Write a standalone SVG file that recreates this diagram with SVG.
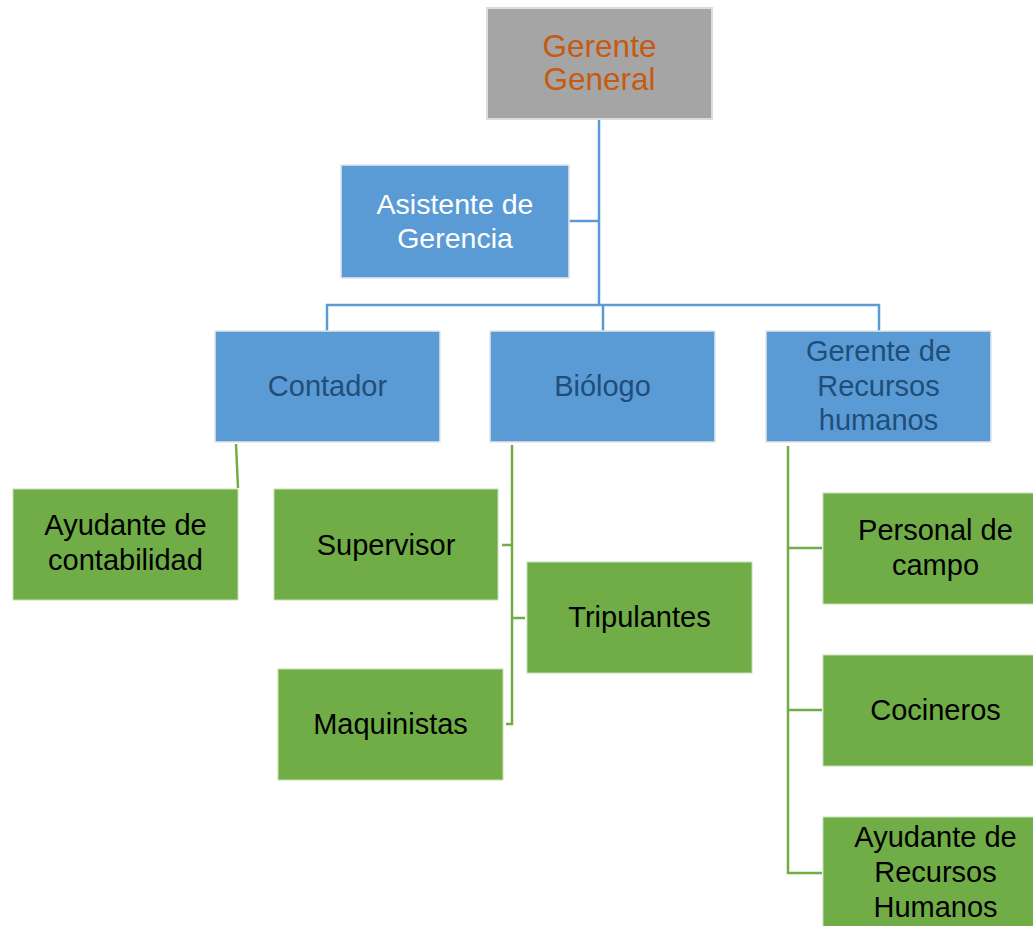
<svg xmlns="http://www.w3.org/2000/svg" width="1033" height="926" viewBox="0 0 1033 926">
<style>
text{font-family:"Liberation Sans",Arial,sans-serif;text-anchor:middle;}
.gray{fill:#a5a5a5;stroke:#dcdcdc;stroke-width:2;}
.blue{fill:#5b9bd5;stroke:#e6e6e6;stroke-width:1.5;}
.green{fill:#70ad47;stroke:#c5dfb3;stroke-width:1;}
.tg{fill:#c55a11;font-size:31.5px;}
.tw{fill:#ffffff;font-size:28.5px;}
.tb{fill:#1f4e79;font-size:29px;}
.tk{fill:#000000;font-size:29px;}
.cb{fill:none;stroke:#5b9bd5;stroke-width:2.5;}
.cg{fill:none;stroke:#70ad47;stroke-width:2.5;}
</style>
<rect width="1033" height="926" fill="#ffffff"/>
<g id="connectors">
<path class="cb" d="M599,120 V305 M569,221 H599 M327,331 V305 H879 V331 M603,305 V331"/>
<path class="cg" d="M236,444 L238,488"/>
<path class="cg" d="M512,445 V724 H506 M502,545 H512 M512,618 H525"/>
<path class="cg" d="M788,446 V873 H822 M788,548 H822 M788,710 H822"/>
</g>
<g id="gerente-general"><rect class="gray" x="487" y="8" width="225" height="111"/><text class="tg" x="599.5" y="57">Gerente</text><text class="tg" x="599.5" y="90">General</text></g>
<g id="asistente"><rect class="blue" x="341" y="165" width="228" height="113"/><text class="tw" x="455" y="214">Asistente de</text><text class="tw" x="455" y="248">Gerencia</text></g>
<g id="contador"><rect class="blue" x="215" y="331" width="225" height="111"/><text class="tb" x="327.5" y="396">Contador</text></g>
<g id="biologo"><rect class="blue" x="490" y="331" width="225" height="111"/><text class="tb" x="602.5" y="396">Biólogo</text></g>
<g id="gerente-rrhh"><rect class="blue" x="766" y="331" width="225" height="111"/><text class="tb" x="878.5" y="361">Gerente de</text><text class="tb" x="878.5" y="396">Recursos</text><text class="tb" x="878.5" y="430">humanos</text></g>
<g id="ayudante-contabilidad"><rect class="green" x="13" y="489" width="225" height="111"/><text class="tk" x="125.5" y="535">Ayudante de</text><text class="tk" x="125.5" y="570">contabilidad</text></g>
<g id="supervisor"><rect class="green" x="274" y="489" width="224" height="111"/><text class="tk" x="386" y="555">Supervisor</text></g>
<g id="tripulantes"><rect class="green" x="527" y="562" width="225" height="111"/><text class="tk" x="639.5" y="627">Tripulantes</text></g>
<g id="maquinistas"><rect class="green" x="278" y="669" width="225" height="111"/><text class="tk" x="390.5" y="734">Maquinistas</text></g>
<g id="personal-campo"><rect class="green" x="823" y="493" width="225" height="111"/><text class="tk" x="935.5" y="540">Personal de</text><text class="tk" x="935.5" y="575">campo</text></g>
<g id="cocineros"><rect class="green" x="823" y="655" width="225" height="111"/><text class="tk" x="935.5" y="720">Cocineros</text></g>
<g id="ayudante-rrhh"><rect class="green" x="823" y="817" width="225" height="111"/><text class="tk" x="935.5" y="847">Ayudante de</text><text class="tk" x="935.5" y="882">Recursos</text><text class="tk" x="935.5" y="917">Humanos</text></g>
</svg>
